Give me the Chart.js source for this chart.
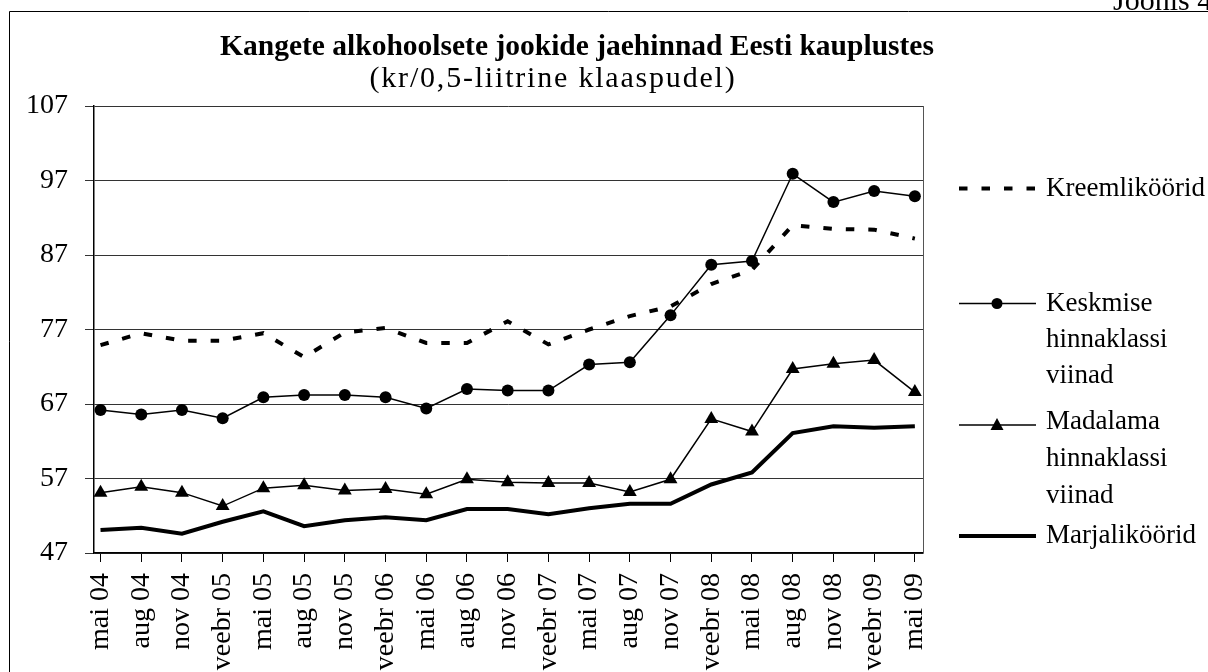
<!DOCTYPE html>
<html>
<head>
<meta charset="utf-8">
<script src="https://cdn.jsdelivr.net/npm/chart.js@4.4.1/dist/chart.umd.min.js"></script>
<style>
    html, body { margin: 0; padding: 0; background: #fff; overflow: hidden; }
    canvas { display: block; }
</style>
</head>
<body>
<canvas id="hinnadChart" width="1208" height="672"></canvas>
<script>
// Kangete alkohoolsete jookide jaehinnad (kr / 0,5 l)
const categories = ['mai 04', 'aug 04', 'nov 04', 'veebr 05', 'mai 05', 'aug 05', 'nov 05',
    'veebr 06', 'mai 06', 'aug 06', 'nov 06', 'veebr 07', 'mai 07', 'aug 07', 'nov 07',
    'veebr 08', 'mai 08', 'aug 08', 'nov 08', 'veebr 09', 'mai 09'];

const kreemlikoorid = [74.9, 76.5, 75.5, 75.5, 76.5, 73.3, 76.6, 77.2, 75.2, 75.2, 78.1,
    75.0, 77.0, 78.8, 80.1, 83.1, 85.0, 91.0, 90.5, 90.4, 89.2];
const keskmiseViinad = [66.2, 65.6, 66.2, 65.1, 67.9, 68.2, 68.2, 67.9, 66.4, 69.0, 68.8,
    68.8, 72.3, 72.6, 78.9, 85.7, 86.2, 97.9, 94.1, 95.6, 94.9];
const madalamaViinad = [55.1, 55.9, 55.1, 53.3, 55.7, 56.1, 55.4, 55.6, 54.9, 56.9, 56.5,
    56.4, 56.4, 55.2, 56.9, 65.0, 63.3, 71.7, 72.4, 72.9, 68.6];
const marjalikoorid = [50.1, 50.4, 49.6, 51.2, 52.6, 50.6, 51.4, 51.8, 51.4, 52.9, 52.9,
    52.2, 53.0, 53.6, 53.6, 56.2, 57.8, 63.1, 64.0, 63.8, 64.0];

const yTicks = [47, 57, 67, 77, 87, 97, 107];

const SERIF = '"Liberation Serif", "Times New Roman", serif';

function toPoints(values) {
    return values.map((v, i) => ({ x: i, y: v }));
}

// raam, pealkiri ja legend
const decorPlugin = {
    id: 'decor',
    beforeDraw(chart) {
        const ctx = chart.ctx;
        ctx.save();
        ctx.fillStyle = '#fff';
        ctx.fillRect(0, 0, chart.width, chart.height);
        ctx.strokeStyle = '#000';
        ctx.lineWidth = 1;
        ctx.beginPath();
        ctx.moveTo(9.5, chart.height);
        ctx.lineTo(9.5, 11.5);
        ctx.lineTo(chart.width, 11.5);
        ctx.stroke();
        ctx.fillStyle = '#000';
        ctx.font = '30px ' + SERIF;
        ctx.textAlign = 'left';
        ctx.textBaseline = 'alphabetic';
        ctx.fillText('Joonis 4', 1113, 10);
        ctx.restore();
    },
    afterDraw(chart) {
        const ctx = chart.ctx;
        const area = chart.chartArea;
        ctx.save();

        // parem serv
        ctx.strokeStyle = '#555';
        ctx.lineWidth = 1;
        ctx.beginPath();
        ctx.moveTo(Math.round(area.right) + 0.5, area.top);
        ctx.lineTo(Math.round(area.right) + 0.5, area.bottom);
        ctx.stroke();

        ctx.fillStyle = '#000';
        ctx.textAlign = 'center';
        ctx.textBaseline = 'alphabetic';
        ctx.font = 'bold 29.5px ' + SERIF;
        ctx.fillText('Kangete alkohoolsete jookide jaehinnad Eesti kauplustes', 577, 55);
        ctx.font = '30px ' + SERIF;
        ctx.letterSpacing = '1.8px';
        ctx.fillText('(kr/0,5-liitrine klaaspudel)', 553, 87);
        ctx.letterSpacing = '0px';

        // legend
        const x0 = 959, x1 = 1036, xm = 997, tx = 1046;
        ctx.strokeStyle = '#000';
        ctx.textAlign = 'left';
        ctx.font = '27px ' + SERIF;

        ctx.lineWidth = 4;
        ctx.setLineDash([8.5, 14]);
        ctx.beginPath();
        ctx.moveTo(x0, 188.5);
        ctx.lineTo(x1, 188.5);
        ctx.stroke();
        ctx.setLineDash([]);
        ctx.fillText('Kreemliköörid', tx, 196);

        ctx.lineWidth = 1.5;
        ctx.beginPath();
        ctx.moveTo(x0, 303.5);
        ctx.lineTo(x1, 303.5);
        ctx.stroke();
        ctx.beginPath();
        ctx.arc(xm, 303.5, 5.5, 0, Math.PI * 2);
        ctx.fill();
        ['Keskmise', 'hinnaklassi', 'viinad'].forEach((t, i) => ctx.fillText(t, tx, 311 + i * 36));

        ctx.beginPath();
        ctx.moveTo(x0, 425);
        ctx.lineTo(x1, 425);
        ctx.stroke();
        ctx.beginPath();
        ctx.moveTo(xm, 418);
        ctx.lineTo(xm + 6.5, 430);
        ctx.lineTo(xm - 6.5, 430);
        ctx.closePath();
        ctx.fill();
        ['Madalama', 'hinnaklassi', 'viinad'].forEach((t, i) => ctx.fillText(t, tx, 429 + i * 37));

        ctx.lineWidth = 4;
        ctx.beginPath();
        ctx.moveTo(x0, 536);
        ctx.lineTo(x1, 536);
        ctx.stroke();
        ctx.fillText('Marjaliköörid', tx, 543);

        ctx.restore();
    }
};

const ctx = document.getElementById('hinnadChart').getContext('2d');
new Chart(ctx, {
    type: 'line',
    data: {
        datasets: [
            {
                label: 'Kreemliköörid',
                data: toPoints(kreemlikoorid),
                borderColor: '#000',
                borderWidth: 4,
                borderDash: [8.5, 14],
                pointRadius: 0,
                tension: 0
            },
            {
                label: 'Keskmise hinnaklassi viinad',
                data: toPoints(keskmiseViinad),
                borderColor: '#000',
                borderWidth: 1.5,
                pointStyle: 'circle',
                pointRadius: 6,
                pointBackgroundColor: '#000',
                pointBorderWidth: 0,
                tension: 0
            },
            {
                label: 'Madalama hinnaklassi viinad',
                data: toPoints(madalamaViinad),
                borderColor: '#000',
                borderWidth: 1.5,
                pointStyle: 'triangle',
                pointRadius: 8,
                pointBackgroundColor: '#000',
                pointBorderWidth: 0,
                tension: 0
            },
            {
                label: 'Marjaliköörid',
                data: toPoints(marjalikoorid),
                borderColor: '#000',
                borderWidth: 4,
                pointRadius: 0,
                tension: 0
            }
        ]
    },
    options: {
        responsive: false,
        animation: false,
        events: [],
        layout: { padding: { top: 106, right: 285, left: 0, bottom: 0 } },
        plugins: {
            legend: { display: false },
            tooltip: { enabled: false },
            title: { display: false }
        },
        scales: {
            x: {
                type: 'linear',
                min: -0.16,
                max: 20.2,
                afterBuildTicks: (scale) => {
                    scale.ticks = categories.map((c, i) => ({ value: i }));
                },
                afterFit: (scale) => { scale.height = 119; },
                ticks: {
                    autoSkip: false,
                    minRotation: 90,
                    maxRotation: 90,
                    padding: 11,
                    color: '#000',
                    font: { family: SERIF, size: 28 },
                    callback: (value) => categories[value]
                },
                grid: { drawOnChartArea: false, drawTicks: true, tickLength: 9, color: '#000' },
                border: { color: '#000', width: 1.5 }
            },
            y: {
                min: 47,
                max: 107,
                afterBuildTicks: (scale) => {
                    scale.ticks = yTicks.map((v) => ({ value: v }));
                },
                afterFit: (scale) => { scale.width = 94; },
                ticks: {
                    padding: 17,
                    color: '#000',
                    font: { family: SERIF, size: 28 }
                },
                grid: { color: '#333', lineWidth: 1, tickLength: 9 },
                border: { color: '#000', width: 1.5 }
            }
        }
    },
    plugins: [decorPlugin]
});
</script>
</body>
</html>
